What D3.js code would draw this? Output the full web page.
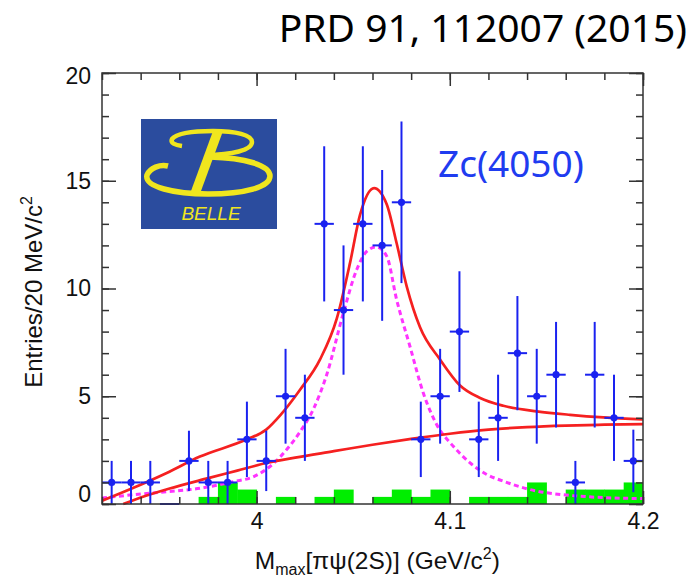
<!DOCTYPE html>
<html>
<head>
<meta charset="utf-8">
<script src="https://cdn.jsdelivr.net/npm/d3@7"></script>
<style>
	body { margin: 0; background: #fff; }
	svg { display: block; }
</style>
</head>
<body>
<div id="chart"></div>
<script>
// data (Belle, M_max[pi psi(2S)])
var binCenters = [3.925, 3.935, 3.945, 3.955, 3.965, 3.975, 3.985, 3.995, 4.005, 4.015,
                  4.025, 4.035, 4.045, 4.055, 4.065, 4.075, 4.085, 4.095, 4.105, 4.115,
                  4.125, 4.135, 4.145, 4.155, 4.165, 4.175, 4.185, 4.195];
var counts =     [1, 1, 1, 0, 2, 1, 1, 3, 2, 5,
                  4, 13, 9, 13, 12, 14, 3, 5, 8, 3,
                  4, 7, 5, 6, 1, 6, 4, 2];
var errors =     [1, 1, 1, 0, 1.4, 1, 1, 1.75, 1.4, 2.2,
                  2, 3.6, 3, 3.6, 3.5, 3.75, 1.75, 2.2, 2.8, 1.75,
                  2, 2.65, 2.2, 2.45, 1, 2.45, 2, 1.45];
var binHalfWidth = 0.005;

// sideband (green) histogram, bins starting at 3.92 every 10 MeV
var sidebandLow = [3.92, 3.93, 3.94, 3.95, 3.96, 3.97, 3.98, 3.99, 4.00, 4.01,
                   4.02, 4.03, 4.04, 4.05, 4.06, 4.07, 4.08, 4.09, 4.10, 4.11,
                   4.12, 4.13, 4.14, 4.15, 4.16, 4.17, 4.18, 4.19];
var sidebandVal = [0, 0, 0, 0, 0, 0.33, 1, 0.67, 0, 0.33,
                   0, 0.33, 0.67, 0, 0.33, 0.67, 0.33, 0.67, 0, 0.33,
                   0.33, 0.33, 1, 0, 0.67, 0.67, 0.67, 1];

// fit curves
var totalFit = [[3.92, 0.15], [3.936, 0.74], [3.9535, 1.44], [3.9707, 2.2], [3.995, 3.0],
                [4.005, 3.45], [4.0121, 4.1], [4.0225, 5.3], [4.0328, 6.7], [4.0415, 8.6],
                [4.0484, 11.2], [4.0535, 13.4], [4.0608, 14.66], [4.0674, 13.9], [4.0725, 12.1],
                [4.0777, 10.1], [4.0846, 8.2], [4.095, 6.7], [4.1053, 5.5], [4.1157, 4.92],
                [4.1277, 4.56], [4.145, 4.3], [4.1622, 4.14], [4.1795, 4.02], [4.2, 3.93]];
var bkgFit = [[3.931, 0], [3.94, 0.3], [3.955, 0.72], [3.975, 1.2], [3.99, 1.55],
              [4.005, 1.9], [4.02, 2.15], [4.04, 2.45], [4.06, 2.75], [4.08, 3.02],
              [4.10, 3.26], [4.12, 3.45], [4.14, 3.57], [4.16, 3.64], [4.18, 3.68], [4.2, 3.71]];
var signalFit = [[3.92, 0.28], [3.936, 0.43], [3.9535, 0.57], [3.9707, 0.73], [3.988, 1.04],
                 [3.9985, 1.27], [4.0089, 1.89], [4.0158, 2.55], [4.0225, 3.35], [4.0294, 4.4],
                 [4.0363, 6.0], [4.0449, 8.86], [4.0518, 10.87], [4.057, 11.72], [4.062, 11.93],
                 [4.0674, 11.49], [4.0725, 9.48], [4.0794, 7.31], [4.0863, 5.15], [4.0932, 3.69],
                 [4.1018, 2.68], [4.1105, 1.91], [4.1191, 1.37], [4.1277, 1.06], [4.1363, 0.8],
                 [4.145, 0.6], [4.1536, 0.48], [4.1708, 0.34], [4.2, 0.25]];

var xMajorTicks = [4, 4.1, 4.2];
var yMajorTicks = [0, 5, 10, 15, 20];

(function () {
	var margin = {top: 73, right: 51, bottom: 76, left: 102},
		width = 694 - margin.left - margin.right,
		height = 580 - margin.top - margin.bottom;

	var blue = "#1a22f0", red = "#f52020", magenta = "#ff33ff", green = "#00ee00";

	var xScale = d3.scaleLinear().domain([3.92, 4.2]).range([0, width]);
	var yScale = d3.scaleLinear().domain([0, 20]).range([height, 0]);

	var svg = d3.select("#chart").append("svg")
			.attr("width", 694)
			.attr("height", 580);

	var g = svg.append("g")
			.attr("transform", "translate(" + margin.left + "," + margin.top + ")");

	g.append("clipPath").attr("id", "plotclip")
		.append("rect").attr("width", width).attr("height", height + 2);

	var plot = g.append("g").attr("clip-path", "url(#plotclip)");

	// sideband histogram
	plot.selectAll(".sb")
		.data(sidebandLow.map(function (d, i) { return {x: d, v: sidebandVal[i]}; }))
		.enter().append("rect")
			.attr("class", "sb")
			.attr("x", function (d) { return xScale(d.x); })
			.attr("width", function (d) { return xScale(d.x + 0.01) - xScale(d.x) + 0.5; })
			.attr("y", function (d) { return yScale(d.v); })
			.attr("height", function (d) { return yScale(0) - yScale(d.v); })
			.attr("fill", green);

	// fit curves
	var line = d3.line()
		.x(function (d) { return xScale(d[0]); })
		.y(function (d) { return yScale(d[1]); })
		.curve(d3.curveMonotoneX);

	plot.append("path").datum(signalFit)
		.attr("d", line).attr("fill", "none")
		.attr("stroke", magenta).attr("stroke-width", 3)
		.attr("stroke-dasharray", "5,3.5");
	plot.append("path").datum(bkgFit)
		.attr("d", line).attr("fill", "none")
		.attr("stroke", red).attr("stroke-width", 2.7);
	plot.append("path").datum(totalFit)
		.attr("d", line).attr("fill", "none")
		.attr("stroke", red).attr("stroke-width", 2.7);

	// data points
	var pts = binCenters.map(function (d, i) { return {x: d, n: counts[i], e: errors[i]}; });
	var pg = plot.selectAll(".pt").data(pts).enter().append("g").attr("class", "pt");
	pg.append("line")
		.attr("x1", function (d) { return xScale(d.x - binHalfWidth); })
		.attr("x2", function (d) { return xScale(d.x + binHalfWidth); })
		.attr("y1", function (d) { return yScale(d.n); })
		.attr("y2", function (d) { return yScale(d.n); })
		.attr("stroke", blue).attr("stroke-width", 2);
	pg.append("line")
		.attr("x1", function (d) { return xScale(d.x); })
		.attr("x2", function (d) { return xScale(d.x); })
		.attr("y1", function (d) { return yScale(d.n - d.e); })
		.attr("y2", function (d) { return yScale(d.n + d.e); })
		.attr("stroke", blue).attr("stroke-width", 2);
	pg.append("circle")
		.attr("cx", function (d) { return xScale(d.x); })
		.attr("cy", function (d) { return yScale(d.n); })
		.attr("r", function (d) { return d.n > 0 ? 3.6 : 0; })
		.attr("fill", blue);

	// axes: ticks point inward on all four sides
	function styleAxis(sel) {
		sel.select(".domain").remove();
		sel.selectAll(".tick line").attr("stroke", "#333").attr("stroke-width", 1.5);
		sel.selectAll(".tick text")
			.attr("fill", "#111")
			.style("font-family", "'Liberation Sans', Arial, sans-serif")
			.style("font-size", "23px");
	}

	g.append("g").attr("transform", "translate(0," + height + ")")
		.call(d3.axisBottom(xScale).tickValues(xScale.ticks(14)).tickSize(-7).tickFormat(""))
		.call(styleAxis);
	g.append("g")
		.call(d3.axisTop(xScale).tickValues(xScale.ticks(14)).tickSize(-7).tickFormat(""))
		.call(styleAxis);
	g.append("g").attr("transform", "translate(0," + height + ")")
		.call(d3.axisBottom(xScale).tickValues(xMajorTicks).tickSize(-13).tickPadding(9)
			.tickFormat(d3.format("")))
		.call(styleAxis);
	g.append("g")
		.call(d3.axisTop(xScale).tickValues(xMajorTicks).tickSize(-13).tickFormat(""))
		.call(styleAxis);

	g.append("g")
		.call(d3.axisLeft(yScale).tickValues(yScale.ticks(20)).tickSize(-7).tickFormat(""))
		.call(styleAxis);
	g.append("g").attr("transform", "translate(" + width + ",0)")
		.call(d3.axisRight(yScale).tickValues(yScale.ticks(20)).tickSize(-7).tickFormat(""))
		.call(styleAxis);
	var yAx = g.append("g")
		.call(d3.axisLeft(yScale).tickValues(yMajorTicks).tickSize(-14).tickPadding(11))
		.call(styleAxis);
	g.append("g").attr("transform", "translate(" + width + ",0)")
		.call(d3.axisRight(yScale).tickValues(yMajorTicks).tickSize(-14).tickFormat(""))
		.call(styleAxis);

	// keep the end labels inside the frame like the original
	yAx.selectAll(".tick text").attr("dy", function (d) {
		return d === 0 ? "-0.12em" : (d === 20 ? "0.45em" : "0.32em");
	});

	// frame
	g.append("rect")
		.attr("width", width).attr("height", height)
		.attr("fill", "none").attr("stroke", "#333").attr("stroke-width", 1.5);

	// axis titles
	var xt = svg.append("text")
		.attr("x", margin.left + xScale(4.0625)).attr("y", 569)
		.attr("text-anchor", "middle")
		.style("font-family", "'Liberation Sans', Arial, sans-serif")
		.style("font-size", "24.5px").attr("fill", "#111");
	xt.append("tspan").text("M");
	xt.append("tspan").text("max").attr("dy", 6).style("font-size", "16px");
	xt.append("tspan").text("[\u03c0\u03c8(2S)] (GeV/c").attr("dy", -6);
	xt.append("tspan").text("2").attr("dy", -10).style("font-size", "16px");
	xt.append("tspan").text(")").attr("dy", 10);

	var yt = svg.append("text")
		.attr("transform", "translate(42,292) rotate(-90)")
		.attr("text-anchor", "middle")
		.style("font-family", "'Liberation Sans', Arial, sans-serif")
		.style("font-size", "24px").attr("fill", "#111");
	yt.append("tspan").text("Entries/20 MeV/c");
	yt.append("tspan").text("2").attr("dy", -10).style("font-size", "16px");

	// reference and label
	svg.append("text")
		.attr("x", 687).attr("y", 42)
		.attr("text-anchor", "end")
		.style("font-family", "'Noto Sans', sans-serif")
		.style("font-size", "39px").attr("fill", "#000")
		.text("PRD 91, 112007 (2015)");

	svg.append("text")
		.attr("x", 438).attr("y", 177)
		.style("font-family", "'Noto Sans', sans-serif")
		.style("font-size", "37px").attr("fill", "#1f3cf0")
		.text("Zc(4050)");

	// Belle logo
	var logo = svg.append("g");
	logo.append("rect")
		.attr("x", 141).attr("y", 119).attr("width", 136).attr("height", 110)
		.attr("fill", "#2b4c9e");
	logo.append("path")
		.attr("d", "M182,146 C175,145 170,143 172,139 C177,133 195,131 213,131 C236,131 252,135 252,142 C252,150 232,155 206,155")
		.attr("fill", "none").attr("stroke", "#f0e61e").attr("stroke-width", 4.5);
	logo.append("path")
		.attr("d", "M168,166 C160,164 150,168 147,175 C144,187 175,194 208,194 C245,194 270,187 270,176 C270,165 245,158 210,157")
		.attr("fill", "none").attr("stroke", "#f0e61e").attr("stroke-width", 5.5);
	logo.append("path")
		.attr("d", "M213,131 L223,131 L201,191 L191,191 Z")
		.attr("fill", "#f0e61e");
	logo.append("text")
		.attr("x", 211).attr("y", 220)
		.attr("text-anchor", "middle")
		.style("font-family", "'Liberation Sans', Arial, sans-serif")
		.style("font-size", "19px").style("font-style", "italic")
		.attr("fill", "#f0e61e")
		.text("BELLE");
})();
</script>
</body>
</html>
